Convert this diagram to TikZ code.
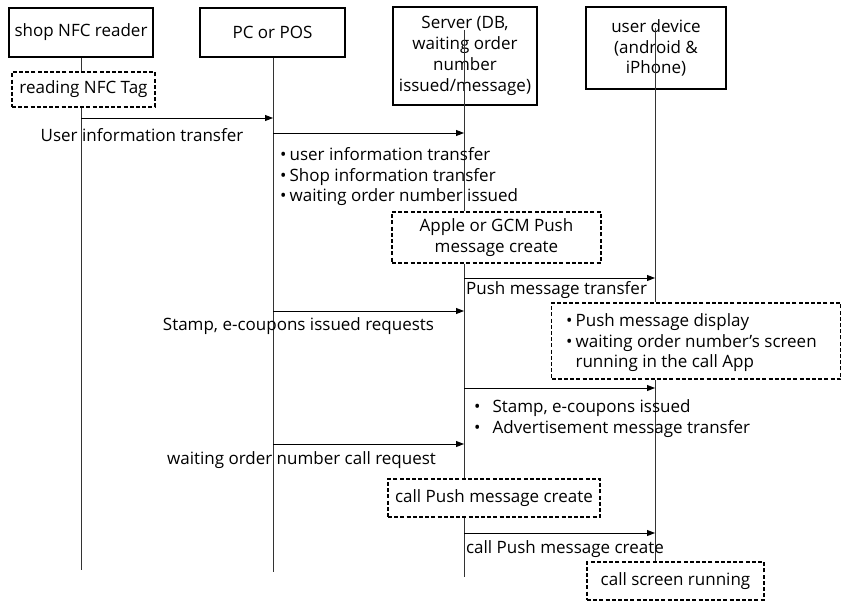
\documentclass[tikz,border=0pt]{standalone}
\usepackage{fontspec}
\setmainfont{Open Sans}
\usetikzlibrary{arrows.meta}
\begin{document}
\begin{tikzpicture}[x=1pt,y=-1pt,
  every node/.style={font=\fontsize{17}{20.8}\selectfont, inner sep=0pt},
  actor/.style={draw, line width=1.6pt, align=center},
  note/.style={draw, line width=1.6pt, dash pattern=on 4pt off 2.2pt, align=center},
  life/.style={line width=0.9pt, draw=black!80},
  msg/.style={line width=0.9pt, -{Triangle[length=8pt,width=6pt]}},
  lbl/.style={anchor=west},
]
\useasboundingbox (0,0) rectangle (842,602);

% actors
\node[actor, minimum width=144pt, minimum height=49pt] (nfc) at (81,32.5) {shop NFC reader};
\node[actor, minimum width=145pt, minimum height=49pt] (pc) at (272.5,32.5) {PC or POS};
\node[actor, minimum width=144pt, minimum height=98pt] (srv) at (465,56) {Server (DB,\\waiting order\\number\\issued/message)};
\node[actor, minimum width=140pt, minimum height=82pt] (dev) at (656,48) {user device\\(android \&\\iPhone)};

% activity notes
\node[note, minimum width=143pt, minimum height=35pt] (tag) at (83.5,89.5) {reading NFC Tag};
\node[note, minimum width=209pt, minimum height=51pt] (apns) at (496.5,237.5) {Apple or GCM Push\\message create};
\node[note, minimum width=289pt, minimum height=76pt] (disp) at (696,341) {};
\node[anchor=north west, align=left] at (566,311.5)
  {\begin{tabular}{@{}l@{\hspace{3pt}}l@{}}
   \textbullet & Push message display\\
   \textbullet & waiting order number’s screen\\
               & running in the call App
   \end{tabular}};
\node[note, minimum width=212pt, minimum height=38pt] (cpush) at (494,498) {call Push message create};
\node[note, minimum width=177pt, minimum height=38pt] (cscr) at (675.5,581) {call screen running};

% lifeline ends
\coordinate (nfcEnd) at (81,570);
\coordinate (pcEnd) at (273,572);
\coordinate (srvEnd) at (464,577);
\coordinate (srvTop) at (464,30);
\coordinate (devTop) at (655,28);

% lifelines
\draw[life] (nfc.south -| nfcEnd) -- (tag.north -| nfcEnd);
\draw[life] (tag.south -| nfcEnd) -- (nfcEnd);
\draw[life] (pc.south -| pcEnd) -- (pcEnd);
\draw[life] (srvTop) -- (apns.north -| srvTop);
\draw[life] (apns.south -| srvTop) -- (cpush.north -| srvTop);
\draw[life] (cpush.south -| srvTop) -- (srvEnd);
\draw[life] (devTop) -- (disp.north -| devTop);
\draw[life] (disp.south -| devTop) -- (cscr.north -| devTop);

% messages
\draw[msg] (nfcEnd |- 0,118) -- (pcEnd |- 0,118);
\node[anchor=center] (m1) at (142,135) {User information transfer};

\draw[msg] (pcEnd |- 0,133) -- (srvEnd |- 0,133);
\node[anchor=north west, align=left] (m2) at (280,145.5)
  {\begin{tabular}{@{}l@{\hspace{3pt}}l@{}}
   \textbullet & user information transfer\\
   \textbullet & Shop information transfer\\
   \textbullet & waiting order number issued
   \end{tabular}};

\draw[msg] (srvEnd |- 0,278) -- (devTop |- 0,278);
\node[lbl] (m3) at (466,290) {Push message transfer};

\draw[msg] (pcEnd |- 0,311) -- (srvEnd |- 0,311);
\node[anchor=center] (m4) at (298.5,326) {Stamp, e-coupons issued requests};

\draw[msg] (srvEnd |- 0,388) -- (devTop |- 0,388);
\node[anchor=north west, align=left] (m5) at (474,397.5)
  {\begin{tabular}{@{}l@{\hspace{12pt}}l@{}}
   \textbullet & Stamp, e-coupons issued\\
   \textbullet & Advertisement message transfer
   \end{tabular}};

\draw[msg] (pcEnd |- 0,444) -- (srvEnd |- 0,444);
\node[anchor=center] (m6) at (301.5,460) {waiting order number call request};

\draw[msg] (srvEnd |- 0,533) -- (devTop |- 0,533);
\node[anchor=center] (m7) at (565,549) {call Push message create};
\end{tikzpicture}
\end{document}
